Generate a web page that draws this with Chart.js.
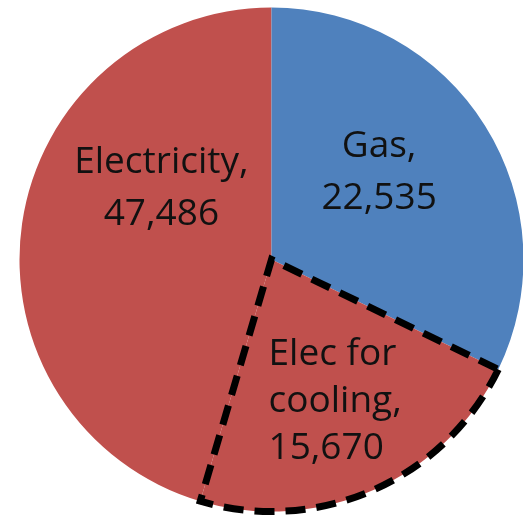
<!DOCTYPE html>
<html lang="en">
<head>
  <meta charset="UTF-8" />
  <title>Energy use – Gas vs Electricity</title>
  <script src="https://cdn.jsdelivr.net/npm/chart.js"></script>
  <style>
    html, body {
      margin: 0;
      padding: 0;
      background: #ffffff;
      overflow: hidden;
    }

    #wrap {
      width: 530px;
      height: 523px;
    }
  </style>
</head>
<body>
  <div id="wrap"><canvas id="pie"></canvas></div>

  <script>
    // data
    const categories = ["Gas", "Electricity"];
    const values = [22535, 47486];
    const coolingLabel = ["Elec for", "cooling"];
    const coolingValue = 15670; // share of the electricity slice

    const blue = "#4F81BD";
    const red = "#C0504D";

    // slices in drawing order: rest of electricity, gas, cooling (drawn last so its dashes sit on top)
    const elecRest = values[1] - coolingValue;
    const sliceData = [elecRest, values[0], coolingValue];
    const total = sliceData.reduce((a, b) => a + b, 0);
    const startRotation = -elecRest / total * 360; // gas starts at 12 o'clock

    const fmt = (v) => v.toLocaleString("en-US");

    // label text, anchored relative to the pie centre in units of the radius
    const labelSpecs = [
      { lines: [categories[1] + ",", fmt(values[1])], dx: -0.437, dy: -0.345, align: "center", lineHeight: 52 },
      { lines: [categories[0] + ",", fmt(values[0])], dx: 0.427, dy: -0.405, align: "center", lineHeight: 52 },
      { lines: [coolingLabel[0], coolingLabel[1] + ",", fmt(coolingValue)], dx: -0.012, dy: 0.417, align: "left", lineHeight: 47 }
    ];

    const sliceLabels = {
      id: "sliceLabels",
      afterDatasetsDraw(chart) {
        const arc = chart.getDatasetMeta(0).data[0];
        const { x, y, outerRadius } = arc;
        const c = chart.ctx;
        c.save();
        c.fillStyle = "#111111";
        c.font = "37px 'Open Sans', sans-serif";
        c.textBaseline = "alphabetic";
        labelSpecs.forEach(s => {
          c.textAlign = s.align;
          const lx = x + s.dx * outerRadius;
          let ly = y + s.dy * outerRadius;
          s.lines.forEach(t => {
            c.fillText(t, lx, ly);
            ly += s.lineHeight;
          });
        });
        c.restore();
      }
    };

    const chart = new Chart(document.getElementById("pie"), {
      type: "pie",
      data: {
        labels: [categories[1], categories[0], coolingLabel.join(" ")],
        datasets: [{
          data: sliceData,
          backgroundColor: [red, blue, red],
          borderColor: ["#ffffff", "#ffffff", "#000000"],
          borderWidth: [0, 0, 7],
          borderDash: (ctx) => ctx.dataIndex === 2 ? [20, 11] : [],
          borderJoinStyle: "miter",
          borderAlign: "center"
        }]
      },
      options: {
        responsive: true,
        maintainAspectRatio: false,
        animation: false,
        rotation: startRotation,
        layout: { padding: { left: 16, right: 3, top: 4, bottom: 8 } },
        plugins: {
          legend: { display: false },
          tooltip: { enabled: false }
        }
      },
      plugins: [sliceLabels]
    });
  </script>
</body>
</html>
